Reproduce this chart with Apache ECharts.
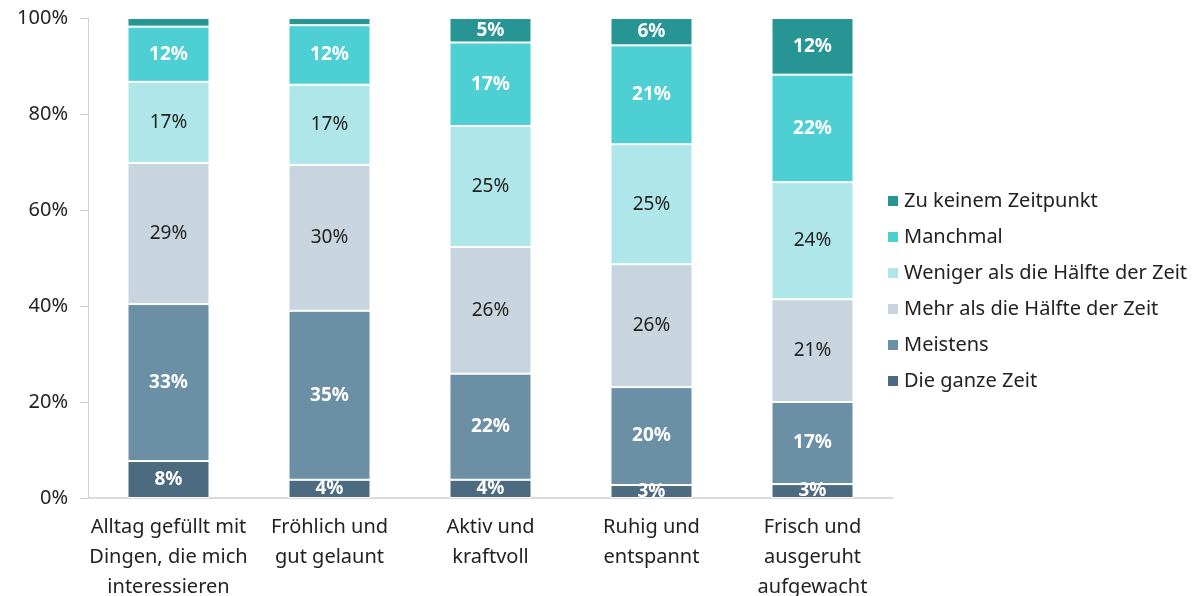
<!DOCTYPE html>
<html lang="de">
<head>
    <meta charset="utf-8">
    <title>Wohlbefinden</title>
    <script src="https://cdn.jsdelivr.net/npm/echarts@6/dist/echarts.min.js"></script>
    <style>
        html, body { margin: 0; padding: 0; background: #fff; }
        #main { width: 1201px; height: 596px; }
    </style>
</head>
<body>
<div id="main"></div>
<script type="text/javascript">
    // Kategorien (x-Achse)
    var categories = [
        'Alltag gefüllt mit\nDingen, die mich\ninteressieren',
        'Fröhlich und\ngut gelaunt',
        'Aktiv und\nkraftvoll',
        'Ruhig und\nentspannt',
        'Frisch und\nausgeruht\naufgewacht'
    ];

    // Anteile in %, von unten nach oben gestapelt
    var dieGanzeZeit      = [7.7, 3.8, 3.8, 2.7, 2.9];
    var meistens          = [32.7, 35.2, 22.1, 20.4, 17.1];
    var mehrAlsHaelfte    = [29.4, 30.4, 26.4, 25.6, 21.4];
    var wenigerAlsHaelfte = [16.9, 16.7, 25.2, 25.0, 24.4];
    var manchmal          = [11.5, 12.4, 17.4, 20.6, 22.4];
    var zuKeinemZeitpunkt = [1.8, 1.5, 5.1, 5.7, 11.8];

    var yTicks = [0, 20, 40, 60, 80, 100];

    var myChart = echarts.init(document.getElementById('main'));
    var font = 'Noto Sans';

    function mkSeries(name, data, color, labelColor, minShow) {
        return {
            name: name,
            type: 'bar',
            stack: 'total',
            barWidth: 82,
            data: data,
            itemStyle: { color: color, borderColor: '#fff', borderWidth: 1 },
            label: {
                show: true,
                position: 'inside',
                fontFamily: font,
                fontSize: 19,
                fontWeight: labelColor === '#fff' ? 'bold' : 'normal',
                color: labelColor,
                formatter: function (p) {
                    return p.value < minShow ? '' : Math.round(p.value) + '%';
                }
            }
        };
    }

    myChart.setOption({
        animation: false,
        grid: { left: 88, right: 308, top: 18, bottom: 98, outerBoundsMode: 'none' },
        legend: {
            orient: 'vertical',
            left: 881,
            top: 185,
            itemWidth: 12,
            itemHeight: 12,
            itemGap: 14,
            icon: 'rect',
            textStyle: { fontFamily: font, fontSize: 20, lineHeight: 22, color: '#222' },
            data: ['Zu keinem Zeitpunkt', 'Manchmal', 'Weniger als die Hälfte der Zeit',
                'Mehr als die Hälfte der Zeit', 'Meistens', 'Die ganze Zeit']
        },
        xAxis: {
            type: 'category',
            data: categories,
            axisLine: { lineStyle: { color: '#d0d0d0', width: 1.5 } },
            axisTick: { show: false },
            axisLabel: {
                fontFamily: font, fontSize: 20, color: '#222',
                lineHeight: 30, margin: 14, interval: 0
            }
        },
        yAxis: {
            type: 'value',
            min: yTicks[0],
            max: yTicks[yTicks.length - 1],
            interval: 20,
            splitLine: { show: false },
            axisLine: { show: true, lineStyle: { color: '#d0d0d0' } },
            axisTick: { show: true, length: 8, lineStyle: { color: '#d0d0d0' } },
            axisLabel: {
                fontFamily: font, fontSize: 20, color: '#222', margin: 20,
                formatter: '{value}%'
            }
        },
        series: [
            mkSeries('Die ganze Zeit', dieGanzeZeit, '#4d6b80', '#fff', 0),
            mkSeries('Meistens', meistens, '#6b8fa4', '#fff', 0),
            mkSeries('Mehr als die Hälfte der Zeit', mehrAlsHaelfte, '#c9d5de', '#222', 0),
            mkSeries('Weniger als die Hälfte der Zeit', wenigerAlsHaelfte, '#aee6e9', '#222', 0),
            mkSeries('Manchmal', manchmal, '#4ecfd3', '#fff', 0),
            mkSeries('Zu keinem Zeitpunkt', zuKeinemZeitpunkt, '#289595', '#fff', 3)
        ]
    });
</script>
</body>
</html>
